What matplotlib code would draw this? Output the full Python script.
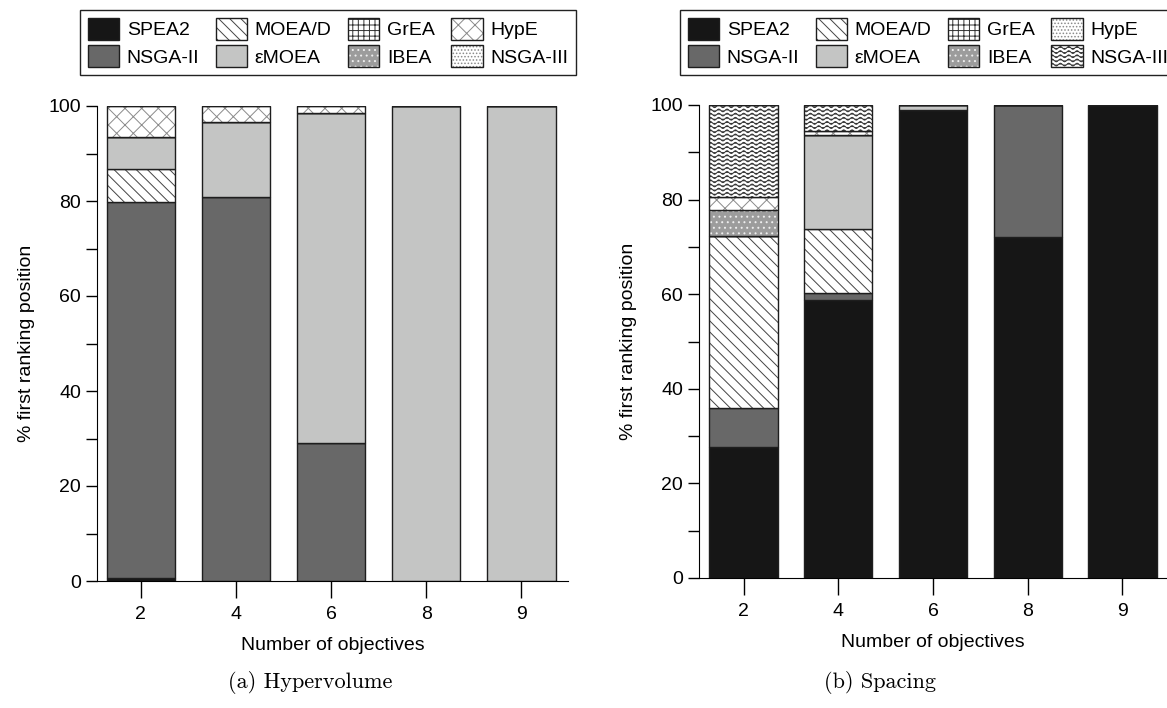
import warnings
import numpy as np
import matplotlib
matplotlib.use('Agg')
import matplotlib.pyplot as plt
from matplotlib import hatch as mhatch
from matplotlib.path import Path
from matplotlib.patches import Patch
from matplotlib.ticker import MultipleLocator

warnings.filterwarnings('ignore')

plt.rcParams['font.family'] = ['Liberation Sans', 'DejaVu Sans']
plt.rcParams['hatch.linewidth'] = 0.7


# wavy hatch ('~') for NSGA-III, matplotlib has none
class WaveHatch(mhatch.HatchPatternBase):
    def __init__(self, hatch, density):
        self.num_lines = int(hatch.count('~') * density)
        self.num_pts = 97
        self.num_vertices = self.num_lines * self.num_pts

    def set_vertices_and_codes(self, vertices, codes):
        xs = np.linspace(0.0, 1.0, self.num_pts)
        for i in range(self.num_lines):
            y0 = (i + 0.5) / self.num_lines
            sl = slice(i * self.num_pts, (i + 1) * self.num_pts)
            vertices[sl, 0] = xs
            vertices[sl, 1] = y0 + 0.014 * np.sin(2 * np.pi * 12 * xs)
            codes[sl] = Path.LINETO
            codes[i * self.num_pts] = Path.MOVETO


mhatch._hatch_types.append(WaveHatch)

# data
objectives = ['2', '4', '6', '8', '9']
algorithms = ['SPEA2', 'NSGA-II', 'MOEA/D', 'εMOEA', 'GrEA', 'IBEA', 'HypE', 'NSGA-III']

hv_spea2 = [0.7, 0, 0, 0, 0]
hv_nsga2 = [79.0, 80.8, 29.0, 0, 0]
hv_moead = [7.0, 0, 0, 0, 0]
hv_emoea = [6.8, 15.8, 69.6, 100, 100]
hv_grea = [0, 0, 0, 0, 0]
hv_ibea = [0, 0, 0, 0, 0]
hv_hype = [6.5, 3.4, 1.4, 0, 0]
hv_nsga3 = [0, 0, 0, 0, 0]

sp_spea2 = [27.8, 58.8, 98.9, 72.0, 100]
sp_nsga2 = [8.2, 1.4, 0, 28.0, 0]
sp_moead = [36.2, 13.6, 0, 0, 0]
sp_emoea = [0, 19.9, 1.1, 0, 0]
sp_grea = [0, 0, 0, 0, 0]
sp_ibea = [5.6, 0, 0, 0, 0]
sp_hype = [2.7, 0.7, 0, 0, 0]
sp_nsga3 = [19.5, 5.6, 0, 0, 0]

hypervolume = [hv_spea2, hv_nsga2, hv_moead, hv_emoea, hv_grea, hv_ibea, hv_hype, hv_nsga3]
spacing = [sp_spea2, sp_nsga2, sp_moead, sp_emoea, sp_grea, sp_ibea, sp_hype, sp_nsga3]

# (face, hatch, hatch colour)
styles = {
    'SPEA2': ('#161616', '', '#161616'),
    'NSGA-II': ('#686868', '', '#686868'),
    'MOEA/D': ('white', '\\\\\\', '#444444'),
    'εMOEA': ('#c4c5c4', '', '#c4c5c4'),
    'GrEA': ('white', '+++', '#333333'),
    'IBEA': ('#9c9c9c', '...', '#eeeeee'),
    'HypE': ('white', 'xx', '#8a8a8a'),
    'NSGA-III': ('white', '.....', '#8a8a8a'),
}
legend_styles_right = dict(styles)
legend_styles_right['HypE'] = ('white', '.....', '#8a8a8a')
legend_styles_right['NSGA-III'] = ('white', '~~~~', '#333333')
bar_styles_right = dict(styles)
bar_styles_right['NSGA-III'] = ('white', '~~~~', '#333333')

edge = '#1e1e1e'

fig = plt.figure(figsize=(11.67, 7.08), dpi=100)
ax1 = fig.add_axes([97 / 1167, 1 - 581 / 708, 471 / 1167, 475 / 708])
ax2 = fig.add_axes([699 / 1167, 1 - 578 / 708, 468 / 1167, 473 / 708])


def draw(ax, values, bstyles):
    x = np.arange(len(objectives))
    bottom = np.zeros(len(objectives))
    for name, vals in zip(algorithms, values):
        vals = np.array(vals, dtype=float)
        face, h, hc = bstyles[name]
        ax.bar(x, vals, 0.72, bottom=bottom, color=face, hatch=h,
               edgecolor=hc, linewidth=0)
        ax.bar(x, vals, 0.72, bottom=bottom, fill=False,
               edgecolor=edge, linewidth=1.0)
        bottom += vals
    ax.set_xlim(-0.46, 4.49)
    ax.set_ylim(0, 100)
    ax.set_xticks(x)
    ax.set_xticklabels(objectives)
    ax.yaxis.set_major_locator(MultipleLocator(20))
    ax.yaxis.set_minor_locator(MultipleLocator(10))
    ax.tick_params(axis='y', which='both', direction='out', length=8, width=1, labelsize=14)
    ax.tick_params(axis='x', direction='out', length=12, width=1, labelsize=14, pad=6)
    for s in ['top', 'right']:
        ax.spines[s].set_visible(False)
    ax.spines['left'].set_bounds(0, 100)
    ax.set_xlabel('Number of objectives', fontsize=14, labelpad=10)
    ax.set_ylabel('% first ranking position', fontsize=14, labelpad=10)


def legend(lstyles, anchor):
    handles = []
    for name in algorithms:
        face, h, hc = lstyles[name]
        handles.append((Patch(facecolor=face, hatch=h, edgecolor=hc, linewidth=0),
                        Patch(fill=False, edgecolor=edge, linewidth=1.0)))
    fig.legend(handles, algorithms, ncol=4, loc='upper left', bbox_to_anchor=anchor,
               fontsize=14, frameon=True, fancybox=False, framealpha=1,
               edgecolor='#222222', handlelength=1.6, handleheight=1.35,
               handletextpad=0.4, columnspacing=0.85, labelspacing=0.3,
               borderpad=0.4, borderaxespad=0)


draw(ax1, hypervolume, styles)
draw(ax2, spacing, bar_styles_right)
ax2.set_xlim(-0.47, 4.47)

legend(styles, (80 / 1167, 1 - 10 / 708))
legend(legend_styles_right, (680 / 1167, 1 - 10 / 708))

fig.text(310 / 1167, 1 - 683 / 708, '(a) Hypervolume', family='cmr10', fontsize=16,
         ha='center', va='center')
fig.text(880 / 1167, 1 - 683 / 708, '(b) Spacing', family='cmr10', fontsize=16,
         ha='center', va='center')

fig.savefig('out.png', dpi=100)
